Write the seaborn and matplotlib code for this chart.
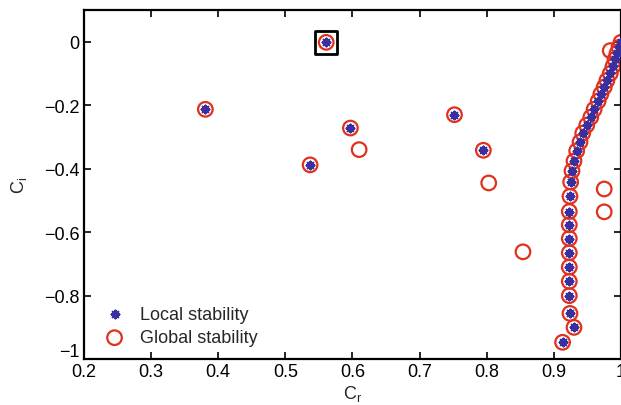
import matplotlib
matplotlib.use("Agg")
import matplotlib.pyplot as plt
import matplotlib.transforms as mtransforms
import seaborn as sns
import pandas as pd

# Branch of eigenvalues found by both methods
branch_cr = [0.913, 0.930, 0.924, 0.923, 0.923, 0.923, 0.923, 0.923, 0.923, 0.923,
             0.924, 0.925, 0.927, 0.930, 0.934, 0.939, 0.943, 0.949, 0.955, 0.960,
             0.966, 0.970, 0.975, 0.979, 0.984, 0.988, 0.991, 0.994, 0.997, 1.000]
branch_ci = [-0.947, -0.900, -0.856, -0.800, -0.755, -0.710, -0.665, -0.620, -0.577, -0.535,
             -0.487, -0.442, -0.407, -0.376, -0.344, -0.316, -0.288, -0.263, -0.238, -0.213,
             -0.187, -0.165, -0.143, -0.122, -0.100, -0.078, -0.056, -0.037, -0.018, -0.002]

# Isolated eigenvalues found by both
both_cr = [0.381, 0.537, 0.561, 0.597, 0.752, 0.795]
both_ci = [-0.213, -0.388, -0.002, -0.272, -0.230, -0.342]

# Eigenvalues found by global analysis only
global_only_cr = [0.610, 0.803, 0.854, 0.975, 0.975, 0.984]
global_only_ci = [-0.340, -0.445, -0.662, -0.464, -0.536, -0.028]

# Highlighted mode
box_cr = [0.561]
box_ci = [-0.002]

xticks = [0.2, 0.3, 0.4, 0.5, 0.6, 0.7, 0.8, 0.9, 1.0]
xticklabels = ["0.2", "0.3", "0.4", "0.5", "0.6", "0.7", "0.8", "0.9", "1"]
yticks = [0, -0.2, -0.4, -0.6, -0.8, -1.0]
yticklabels = ["0", "\u22120.2", "\u22120.4", "\u22120.6", "\u22120.8", "\u22121"]

local_df = pd.DataFrame({"Cr": both_cr + branch_cr, "Ci": both_ci + branch_ci})
global_df = pd.DataFrame({"Cr": both_cr + global_only_cr + branch_cr,
                          "Ci": both_ci + global_only_ci + branch_ci})
box_df = pd.DataFrame({"Cr": box_cr, "Ci": box_ci})

sns.set_theme(style="ticks")
plt.rcParams["font.family"] = ["Liberation Sans", "DejaVu Sans"]
plt.rcParams["mathtext.fontset"] = "custom"
plt.rcParams["mathtext.rm"] = "Liberation Sans"
plt.rcParams["mathtext.it"] = "Liberation Sans"

fig = plt.figure(figsize=(6.21, 4.06), dpi=100)
ax = fig.add_axes([0.135, 0.113, 0.865, 0.860])

red = "#e0301e"
blue = "#3a2f9e"

sns.scatterplot(data=global_df, x="Cr", y="Ci", ax=ax, marker="o", s=110,
                facecolors="none", edgecolor=red, linewidth=1.6,
                label="Global stability", zorder=2)
sns.scatterplot(data=local_df, x="Cr", y="Ci", ax=ax, marker=(8, 2, 0), s=30,
                color=blue, linewidth=1.6, label="Local stability", zorder=3)
sns.scatterplot(data=box_df, x="Cr", y="Ci", ax=ax, marker="s", s=260,
                facecolors="none", edgecolor="black", linewidth=2.0, zorder=4,
                legend=False)

ax.set_xlim(0.2, 1.0)
ax.set_ylim(-1.0, 0.1)
ax.set_xticks(xticks)
ax.set_xticklabels(xticklabels)
ax.set_yticks(yticks)
ax.set_yticklabels(yticklabels)
ax.tick_params(direction="in", length=5, width=1.2, labelsize=13, top=True, right=True,
               colors="black")
ax.tick_params(axis="x", pad=3)
ax.tick_params(axis="y", pad=3)
for sp in ax.spines.values():
    sp.set_visible(True)
    sp.set_linewidth(1.6)
    sp.set_color("black")

# raise the bottom y tick label slightly (as in the reference) to avoid clashing with 0.2
bottom_lbl = ax.get_yticklabels()[-1]
bottom_lbl.set_transform(bottom_lbl.get_transform() +
                         mtransforms.ScaledTranslation(0, 7 / 72, fig.dpi_scale_trans))

ax.set_xlabel(r"C$_\mathregular{r}$", fontsize=13, labelpad=2)
ax.set_ylabel(r"C$_\mathregular{i}$", fontsize=13, labelpad=11)

h, l = ax.get_legend_handles_labels()
order = [l.index("Local stability"), l.index("Global stability")]
ax.legend([h[i] for i in order], [l[i] for i in order], frameon=False,
          loc="lower left", bbox_to_anchor=(0.0, -0.005), fontsize=13,
          handletextpad=0.5, borderaxespad=0.4, labelspacing=0.35, handlelength=1.8)

fig.savefig("out.png", dpi=100)
